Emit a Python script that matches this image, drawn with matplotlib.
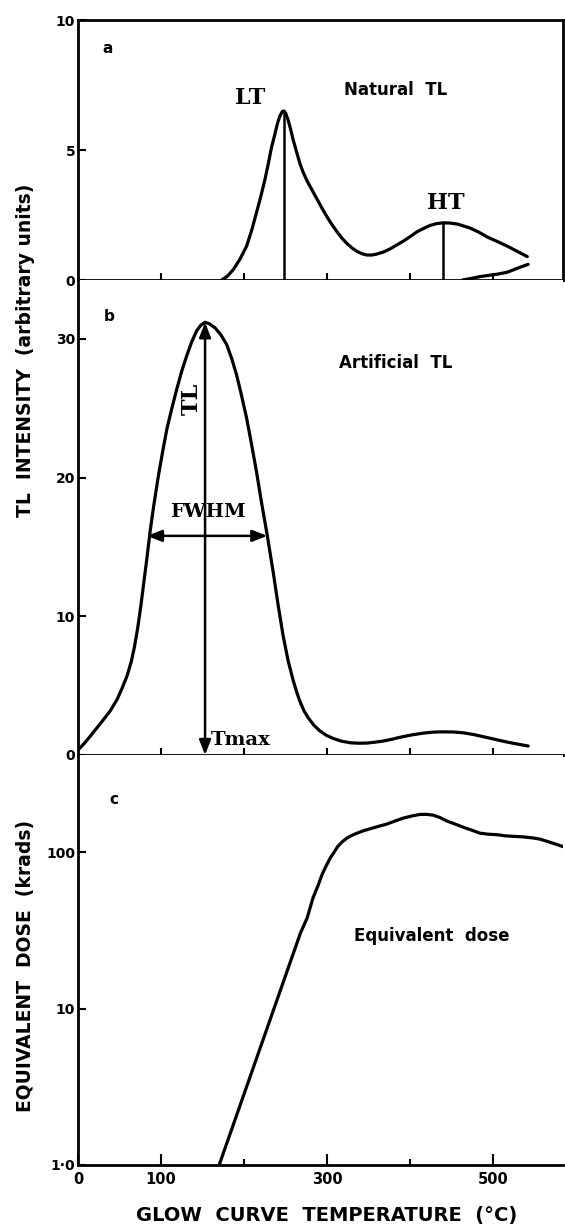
import matplotlib
matplotlib.use("Agg")
import matplotlib.pyplot as plt
import numpy as np

# ---------------- data ----------------
# Panel a: natural TL glow curve
temp_a = [173, 180, 187, 195, 203, 209, 215, 220, 225, 229, 233, 237, 240, 243, 246, 248,
          250, 253, 256, 259, 263, 267, 271, 276, 282, 288, 294, 300, 306, 312,
          318, 324, 330, 336, 342, 348, 354, 360, 368, 376, 384, 392, 400, 408, 416,
          424, 432, 440, 448, 457, 464, 472, 482, 493, 505, 517, 529, 541]
tl_a = [0.0, 0.15, 0.4, 0.8, 1.3, 1.9, 2.6, 3.2, 3.85, 4.45, 5.1, 5.6, 6.0, 6.3, 6.48, 6.5,
        6.42, 6.15, 5.8, 5.4, 4.95, 4.5, 4.15, 3.8, 3.45, 3.1, 2.75, 2.42, 2.12, 1.85,
        1.6, 1.4, 1.23, 1.1, 1.01, 0.96, 0.96, 1.0, 1.08, 1.2, 1.35, 1.5, 1.67, 1.85, 1.98,
        2.1, 2.17, 2.2, 2.19, 2.15, 2.08, 2.0, 1.85, 1.65, 1.48, 1.3, 1.1, 0.9]
temp_a2 = [463, 475, 484, 495, 506, 517, 525, 533, 542]
tl_a2 = [0.0, 0.07, 0.13, 0.18, 0.23, 0.3, 0.4, 0.5, 0.6]
lt_peak = (248, 6.5)
ht_peak = (440, 2.2)

# Panel b: artificial TL glow curve
temp_b = [0, 7, 14, 22, 30, 39, 47, 53, 59, 64, 68, 72, 76, 80, 83, 87, 91, 97, 102, 107,
          113, 119, 125, 131, 137, 143, 148, 153, 158, 165, 172, 179, 185, 191, 197, 203,
          209, 215, 221, 228, 235, 241, 247, 253, 259, 263, 267, 272, 277, 284, 291, 299,
          307, 317, 328, 338, 348, 357, 367, 377, 388, 402, 416, 428, 440, 452, 464, 476,
          488, 502, 516, 529, 542]
tl_b = [0.36, 0.8, 1.3, 1.9, 2.5, 3.2, 4.0, 4.8, 5.7, 6.7, 7.8, 9.2, 10.9, 12.8, 14.2,
        16.2, 17.9, 20.2, 21.9, 23.5, 25.0, 26.4, 27.7, 28.8, 29.8, 30.6, 31.0, 31.2,
        31.1, 30.8, 30.3, 29.6, 28.6, 27.4, 25.9, 24.3, 22.4, 20.4, 18.2, 15.8, 13.2,
        10.8, 8.6, 6.8, 5.4, 4.6, 3.9, 3.2, 2.7, 2.15, 1.75, 1.42, 1.2, 1.0, 0.88, 0.85,
        0.86, 0.92, 1.0, 1.12, 1.28, 1.45, 1.58, 1.65, 1.67, 1.66, 1.6, 1.48, 1.32, 1.13,
        0.94, 0.79, 0.65]
tmax = 153
tl_max = 31.2
fwhm_left, fwhm_right, half_max = 83, 228, 15.8

# Panel c: equivalent dose
temp_c = [170, 268, 276, 283, 289, 294, 299, 304, 309, 313, 318, 324, 330, 336, 344, 352,
          362, 372, 382, 392, 402, 412, 420, 428, 436, 444, 454, 464, 474, 484, 494, 505,
          514, 524, 536, 548, 556, 565, 576, 587]
dose_c = [1.0, 30.5, 38, 51, 61, 72, 82, 92, 101, 109, 116, 123, 128, 132, 137, 141,
          146, 151, 158, 165, 170, 174, 174, 172, 166, 158, 151, 144, 138, 132, 130, 129,
          127, 126, 125, 123, 121, 117, 112, 107]

x_ticks = [100, 200, 300, 400, 500]
x_major_c = [0, 100, 300, 500]
x_major_labels = ["0", "100", "300", "500"]
x_minor_c = [200, 400]
y_ticks_a = [0, 5, 10]
y_ticks_b = [0, 10, 20, 30]
y_ticks_c = [1, 10, 100]
y_labels_c = ["1\u00b70", "10", "100"]

# ---------------- figure ----------------
W, H = 565, 1228
fig = plt.figure(figsize=(W / 100, H / 100), dpi=100)

left = 78 / W
width = (563 - 78) / W
ax_a = fig.add_axes([left, 1 - 280 / H, width, 260 / H])
ax_b = fig.add_axes([left, 1 - 755 / H, width, 475 / H])
ax_c = fig.add_axes([left, 1 - 1165 / H, width, 410 / H])

LW = 2.3
SPW = 2.0
SANS = "DejaVu Sans"
SERIF = "DejaVu Serif"
XMAX = 584
line_kw = dict(color="black", lw=LW, solid_capstyle="round", solid_joinstyle="round")

for ax in (ax_a, ax_b, ax_c):
    ax.set_xlim(0, XMAX)
    for s in ax.spines.values():
        s.set_linewidth(SPW)
    ax.tick_params(direction="in", width=1.5, length=6, labelsize=10, pad=2)

# Panel a
ax_a.plot(temp_a, tl_a, **line_kw)
ax_a.plot(temp_a2, tl_a2, **line_kw)
ax_a.vlines([lt_peak[0], ht_peak[0]], 0, [lt_peak[1], ht_peak[1]], color="black", lw=1.8)
ax_a.set_ylim(0, 10)
ax_a.set_yticks(y_ticks_a)
ax_a.set_yticklabels([str(v) for v in y_ticks_a], fontweight="bold", fontsize=10)
ax_a.set_xticks(x_ticks)
ax_a.set_xticklabels([])
ax_a.tick_params(axis="x", length=5)
ax_a.text(36, 8.9, "a", fontsize=11, fontweight="bold", family=SANS, ha="center", va="center")
ax_a.text(207, 7.0, "LT", fontsize=16, fontweight="bold", family=SERIF, ha="center", va="center")
ax_a.text(443, 2.95, "HT", fontsize=16, fontweight="bold", family=SERIF, ha="center", va="center")
ax_a.text(382, 7.3, "Natural  TL", fontsize=12, fontweight="bold", family=SANS,
          ha="center", va="center")

# Panel b
ax_b.plot(temp_b, tl_b, **line_kw)
ax_b.set_ylim(0, 34.25)
ax_b.set_yticks(y_ticks_b)
ax_b.set_yticklabels([str(v) for v in y_ticks_b], fontweight="bold", fontsize=10)
ax_b.set_xticks(x_ticks)
ax_b.set_xticklabels([])
ax_b.tick_params(axis="x", length=5)
ax_b.spines["top"].set_visible(False)
ax_b.spines["right"].set_visible(False)
arrow_kw = dict(arrowstyle="<|-|>,head_length=0.9,head_width=0.35", color="black",
                lw=1.8, shrinkA=0, shrinkB=0)
ax_b.annotate("", xy=(tmax, tl_max), xytext=(tmax, 0), arrowprops=arrow_kw)
ax_b.annotate("", xy=(fwhm_left, half_max), xytext=(fwhm_right, half_max), arrowprops=arrow_kw)
ax_b.text(38, 31.6, "b", fontsize=11, fontweight="bold", family=SANS, ha="center", va="center")
ax_b.text(137, 25.7, "TL", fontsize=16, fontweight="bold", family=SERIF, rotation=90,
          ha="center", va="center")
ax_b.text(156, 17.5, "FWHM", fontsize=14, fontweight="bold", family=SERIF,
          ha="center", va="center")
ax_b.text(160, 1.1, "Tmax", fontsize=14, fontweight="bold", family=SERIF,
          ha="left", va="center")
ax_b.text(382, 28.3, "Artificial  TL", fontsize=12, fontweight="bold", family=SANS,
          ha="center", va="center")

# Panel c
ax_c.plot(temp_c, dose_c, **line_kw)
ax_c.set_yscale("log")
ax_c.set_ylim(1, 417)
ax_c.set_yticks(y_ticks_c)
ax_c.set_yticklabels(y_labels_c, fontweight="bold", fontsize=10)
ax_c.yaxis.set_minor_locator(matplotlib.ticker.NullLocator())
ax_c.set_xticks(x_major_c)
ax_c.set_xticklabels(x_major_labels, fontweight="bold", fontsize=10.5)
ax_c.set_xticks(x_minor_c, minor=True)
ax_c.tick_params(axis="x", which="major", length=8, pad=5)
ax_c.tick_params(axis="x", which="minor", direction="in", length=4, width=1.5)
ax_c.spines["top"].set_visible(False)
ax_c.spines["right"].set_visible(False)
ax_c.text(43, 218, "c", fontsize=11, fontweight="bold", family=SANS, ha="center", va="center")
ax_c.text(426, 29, "Equivalent  dose", fontsize=12, fontweight="bold", family=SANS,
          ha="center", va="center")

# Axis labels
fig.text(26 / W, 1 - 350 / H, "TL  INTENSITY  (arbitrary units)", rotation=90,
         fontsize=13.5, fontweight="bold", family=SANS, ha="center", va="center")
fig.text(26 / W, 1 - 966 / H, "EQUIVALENT  DOSE  (krads)", rotation=90,
         fontsize=13.5, fontweight="bold", family=SANS, ha="center", va="center")
fig.text(327 / W, 1 - 1215 / H, "GLOW  CURVE  TEMPERATURE  (\u00b0C)",
         fontsize=14, fontweight="bold", family=SANS, ha="center", va="center")

fig.savefig("out.png", dpi=100)
